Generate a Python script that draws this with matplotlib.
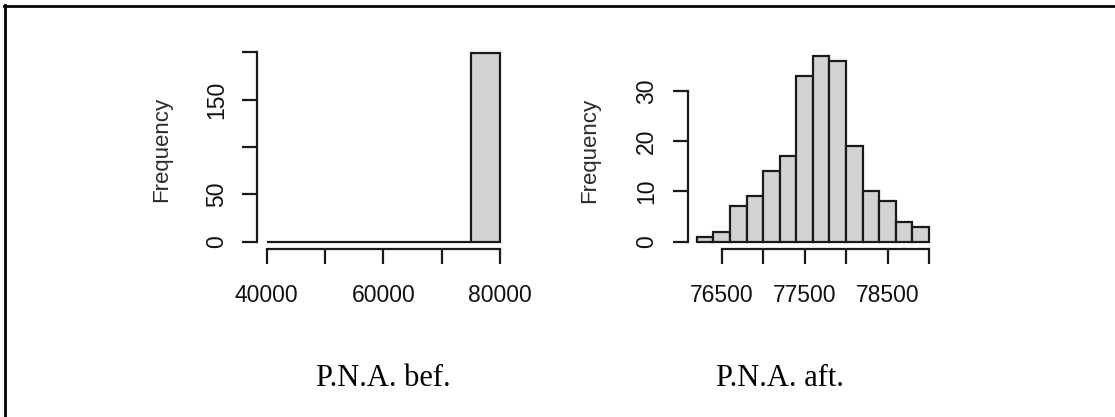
import matplotlib
matplotlib.use("Agg")
import matplotlib.pyplot as plt
from matplotlib.lines import Line2D

# ---- data ----
bef_edges = [40000, 45000, 50000, 55000, 60000, 65000, 70000, 75000]
bef_width = 5000
bef_counts = [0, 0, 0, 0, 0, 0, 0, 199]
bef_xticks = [40000, 50000, 60000, 70000, 80000]
bef_xlabels = ["40000", "", "60000", "", "80000"]
bef_yticks = [0, 50, 100, 150, 200]
bef_ylabels = ["0", "50", "", "150", ""]

aft_edges = [76200, 76400, 76600, 76800, 77000, 77200, 77400, 77600,
             77800, 78000, 78200, 78400, 78600, 78800]
aft_width = 200
aft_counts = [1, 2, 7, 9, 14, 17, 33, 37, 36, 19, 10, 8, 4, 3]
aft_xticks = [76500, 77000, 77500, 78000, 78500, 79000]
aft_xlabels = ["76500", "", "77500", "", "78500", ""]
aft_yticks = [0, 10, 20, 30]
aft_ylabels = ["0", "10", "20", "30"]

captions = ["P.N.A. bef.", "P.N.A. aft."]

W, H = 1115, 417
fig = plt.figure(figsize=(W / 100, H / 100), dpi=100)
fig.patch.set_facecolor("white")


def px_axes(x0, x1, y0, y1):
    return fig.add_axes([x0 / W, 1 - y1 / H, (x1 - x0) / W, (y1 - y0) / H])


TXT = "#111111"
LW = 1.6
LC = "#1a1a1a"


def draw_hist(ax, edges, width, counts, xticks, xlabels, yticks, ylabels):
    ax.bar(edges, counts, width=width, align="edge", color="#D3D3D3",
           edgecolor=LC, linewidth=LW)
    xmin, xmax = edges[0], edges[-1] + width
    ymax = max(counts)
    dx = 0.04 * (xmax - xmin)
    ax.set_xlim(xmin - dx, xmax + dx)
    ax.set_ylim(-0.04 * ymax, ymax * 1.04)
    for s in ["top", "right"]:
        ax.spines[s].set_visible(False)
    ax.spines["left"].set_bounds(yticks[0], yticks[-1])
    ax.spines["bottom"].set_bounds(xticks[0], xticks[-1])
    for s in ["left", "bottom"]:
        ax.spines[s].set_linewidth(LW)
        ax.spines[s].set_color(LC)
    ax.set_xticks(xticks)
    ax.set_xticklabels(xlabels)
    ax.set_yticks(yticks)
    ax.set_yticklabels(ylabels, rotation=90, va="center")
    ax.tick_params(axis="both", length=11, width=LW, color=LC,
                   labelsize=16.5, labelcolor=TXT)
    ax.tick_params(axis="x", pad=14)
    ax.tick_params(axis="y", pad=10)
    for lab in ax.get_xticklabels() + ax.get_yticklabels():
        lab.set_family("Liberation Sans")
    ax.set_ylabel("Frequency", family="Liberation Sans", fontsize=16,
                  color="#2a2a2a")
    ax.yaxis.label.set_va("center")
    ax.patch.set_alpha(0)


ax1 = px_axes(257.4, 509.3, 45.8, 249.3)
draw_hist(ax1, bef_edges, bef_width, bef_counts, bef_xticks, bef_xlabels,
          bef_yticks, bef_ylabels)
ax1.yaxis.set_label_coords((161.7 - 257.4) / (509.3 - 257.4), 0.49)

ax2 = px_axes(687.5, 938.3, 48.1, 249.1)
draw_hist(ax2, aft_edges, aft_width, aft_counts, aft_xticks, aft_xlabels,
          aft_yticks, aft_ylabels)
ax2.yaxis.set_label_coords((590 - 687.5) / (938.3 - 687.5), 0.49)

# captions
for cx, txt in zip([383, 780], captions):
    fig.text(cx / W, 1 - 386.5 / H, txt, family="Liberation Serif",
             fontsize=22, ha="center", va="baseline", color="black")

# frame (top and left edges)
fig.add_artist(Line2D([4 / W, 1.0], [1 - 5.5 / H, 1 - 5.5 / H],
                      transform=fig.transFigure, color="black", linewidth=2))
fig.add_artist(Line2D([5 / W, 5 / W], [1 - 4.5 / H, 0.0],
                      transform=fig.transFigure, color="black", linewidth=2))

fig.savefig("out.png", dpi=100, facecolor="white")
